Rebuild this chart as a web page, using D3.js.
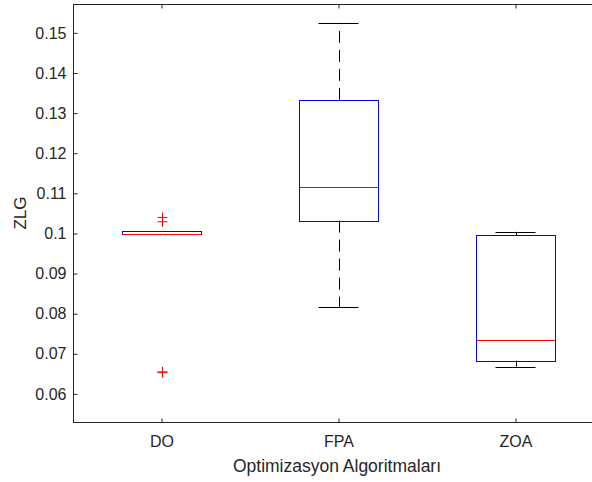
<!DOCTYPE html>
<html><head><meta charset="utf-8">
<script src="https://cdn.jsdelivr.net/npm/d3@7"></script>
<style>body{margin:0;background:#fff}svg{display:block}text{font-family:"Liberation Sans",Arial,sans-serif}</style>
</head><body>
<script>
const categories = ["DO", "FPA", "ZOA"];
const whiskerLow  = [0.0998, 0.0816, 0.0668];
const q1          = [0.09985, 0.1032, 0.0683];
const median      = [0.09995, 0.1115, 0.0735];
const q3          = [0.1005, 0.1333, 0.0996];
const whiskerHigh = [0.1005, 0.1525, 0.1004];
const outliers    = [[0.1040, 0.1029, 0.0655, 0.0653], [], []];
const yTicks = [0.06, 0.07, 0.08, 0.09, 0.1, 0.11, 0.12, 0.13, 0.14, 0.15];
const yTickLabels = ["0.06", "0.07", "0.08", "0.09", "0.1", "0.11", "0.12", "0.13", "0.14", "0.15"];

(function () {
const W = 592, H = 482;
const pL = 73, pT = 4, pR = 604, pB = 422;
const svg = d3.select("body").append("svg").attr("width", W).attr("height", H);
const x = d3.scaleLinear().domain([0.5, 3.5]).range([pL, pR]);
const y = d3.scaleLinear().domain([0.0530, 0.1572]).range([pB, pT]);
const axisColor = "#262626";
const boxHalf = 0.223, capHalf = 0.113;

svg.append("rect").attr("x", pL + 0.5).attr("y", pT + 0.5)
  .attr("width", pR - pL).attr("height", pB - pT)
  .attr("fill", "none").attr("stroke", axisColor).attr("stroke-width", 1);

const yAxis = d3.axisLeft(y).tickValues(yTicks).tickFormat((d, i) => yTickLabels[i]).tickSizeInner(-4).tickSizeOuter(0).tickPadding(7);
const gy = svg.append("g").attr("transform", `translate(${pL + 0.5},0)`).call(yAxis);
gy.select(".domain").remove();
gy.selectAll("line").attr("stroke", axisColor);
gy.selectAll("text").attr("fill", axisColor).style("font-size", "16px").attr("font-family", "Liberation Sans, Arial, sans-serif");

const xAxis = d3.axisBottom(x).tickValues([1, 2, 3]).tickFormat((d, i) => categories[i]).tickSizeInner(-4).tickSizeOuter(0).tickPadding(13);
const gx = svg.append("g").attr("transform", `translate(0,${pB + 0.5})`).call(xAxis);
gx.select(".domain").remove();
gx.selectAll("line").attr("stroke", axisColor);
gx.selectAll("text").attr("fill", axisColor).style("font-size", "16px").attr("font-family", "Liberation Sans, Arial, sans-serif");

const xTop = d3.axisTop(x).tickValues([1, 2, 3]).tickFormat("").tickSizeInner(-4).tickSizeOuter(0);
const gt = svg.append("g").attr("transform", `translate(0,${pT + 0.5})`).call(xTop);
gt.select(".domain").remove();
gt.selectAll("line").attr("stroke", axisColor);

svg.append("text").attr("x", 337).attr("y", 472).attr("text-anchor", "middle")
  .attr("fill", axisColor).style("font-size", "17.5px").text("Optimizasyon Algoritmaları");
svg.append("text").attr("transform", `translate(26,${(pT + pB) / 2}) rotate(-90)`).attr("text-anchor", "middle")
  .attr("fill", axisColor).style("font-size", "17px").text("ZLG");

const g = svg.append("g");
categories.forEach((c, i) => {
  const cx = Math.round(x(i + 1)) + 0.5;
  g.append("line").attr("x1", cx).attr("x2", cx).attr("y1", y(q3[i])).attr("y2", y(whiskerHigh[i]))
    .attr("stroke", "#000").attr("stroke-dasharray", "12,7").attr("stroke-width", 1);
  g.append("line").attr("x1", cx).attr("x2", cx).attr("y1", y(q1[i])).attr("y2", y(whiskerLow[i]))
    .attr("stroke", "#000").attr("stroke-dasharray", "12,7").attr("stroke-width", 1);
  [whiskerHigh[i], whiskerLow[i]].forEach(v => {
    g.append("line").attr("x1", x(i + 1 - capHalf)).attr("x2", x(i + 1 + capHalf))
      .attr("y1", Math.round(y(v)) + 0.5).attr("y2", Math.round(y(v)) + 0.5).attr("stroke", "#000");
  });
  const bx1 = Math.round(x(i + 1 - boxHalf)) + 0.5, bx2 = Math.round(x(i + 1 + boxHalf)) + 0.5;
  const by1 = Math.round(y(q3[i])) + 0.5, by2 = Math.round(y(q1[i])) + 0.5;
  g.append("rect").attr("x", bx1).attr("y", by1).attr("width", bx2 - bx1).attr("height", Math.max(by2 - by1, 1))
    .attr("fill", "none").attr("stroke", "#0000ff").attr("stroke-width", 1);
  const my = Math.round(y(median[i])) + 0.5;
  g.append("line").attr("x1", bx1).attr("x2", bx2).attr("y1", my).attr("y2", my).attr("stroke", "#ff0000");
  outliers[i].forEach(v => {
    const py = y(v);
    g.append("path").attr("d", `M${cx - 5},${py}H${cx + 5}M${cx},${py - 5}V${py + 5}`)
      .attr("stroke", "#ff0000").attr("stroke-width", 1).attr("fill", "none");
  });
});
})();
</script>
</body></html>
